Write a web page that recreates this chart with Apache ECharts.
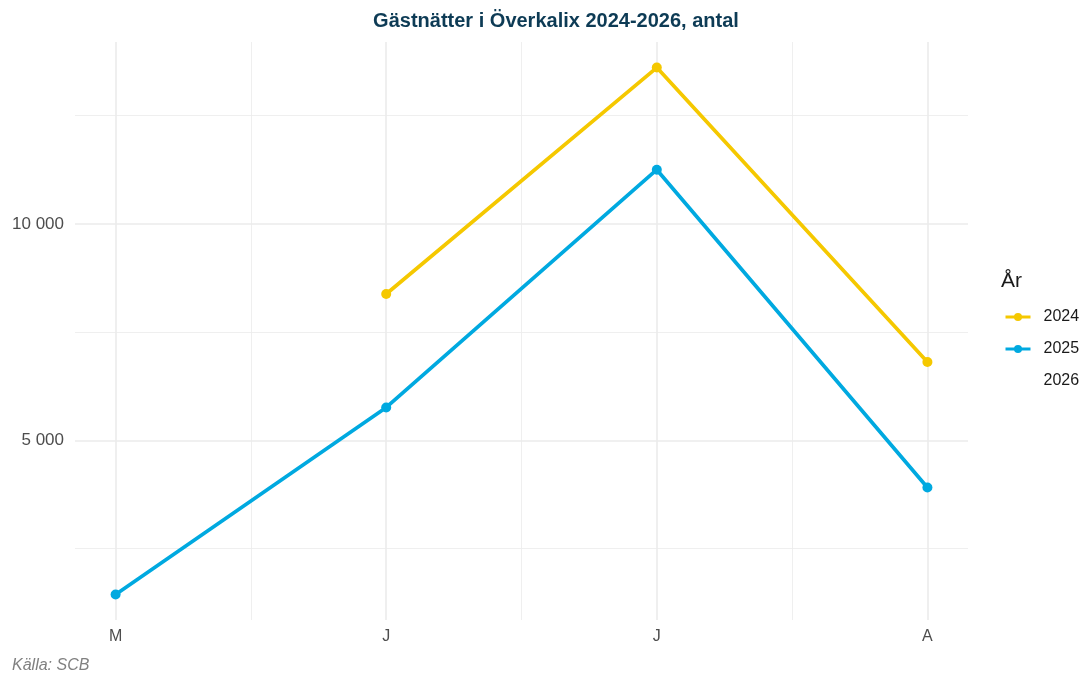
<!DOCTYPE html>
<html>
<head>
<meta charset="utf-8">
<script src="https://cdn.jsdelivr.net/npm/echarts@6/dist/echarts.min.js"></script>
<style>
html,body{margin:0;padding:0;background:#fff;}
#chart{width:1086px;height:673px;}
</style>
</head>
<body>
<div id="chart"></div>
<script>
// Data
const months = ['M', 'J', 'J', 'A'];
const years = ['2024', '2025', '2026'];
const values2024 = [null, 8380, 13610, 6810];
const values2025 = [1440, 5760, 11250, 3910];
const values2026 = [null, null, null, null];
const yMajorTicks = [5000, 10000];
const yMinorTicks = [2500, 7500, 12500];

const FONT = '"Liberation Sans", Arial, sans-serif';
const colors = {'2024': '#f5c800', '2025': '#00a9e0', '2026': 'rgba(0,0,0,0)'};
const seriesValues = {'2024': values2024, '2025': values2025, '2026': values2026};

function pairs(vals) {
  return vals.map((v, i) => [i + 1, v]);
}

const gridMarks = [];
yMajorTicks.forEach(v => gridMarks.push({yAxis: v, lineStyle: {width: 1.6}}));
yMinorTicks.forEach(v => gridMarks.push({yAxis: v, lineStyle: {width: 0.8}}));
months.forEach((m, i) => gridMarks.push({xAxis: i + 1, lineStyle: {width: 1.6}}));
for (let i = 1; i < months.length; i++) gridMarks.push({xAxis: i + 0.5, lineStyle: {width: 0.8}});

const series = [{
  name: '__grid',
  type: 'line',
  data: [],
  silent: true,
  z: 1,
  markLine: {
    silent: true,
    z: 1,
    symbol: 'none',
    label: {show: false},
    animation: false,
    lineStyle: {color: '#ebebeb', type: 'solid'},
    emphasis: {disabled: true},
    data: gridMarks
  }
}];
years.forEach(y => {
  series.push({
    name: y,
    type: 'line',
    data: pairs(seriesValues[y]),
    connectNulls: false,
    symbol: 'circle',
    symbolSize: 10,
    showSymbol: true,
    z: 10,
    lineStyle: {width: 3.7, color: colors[y]},
    itemStyle: {color: colors[y]},
    emphasis: {disabled: true}
  });
});

const chart = echarts.init(document.getElementById('chart'));
chart.setOption({
  animation: false,
  backgroundColor: '#ffffff',
  textStyle: {fontFamily: FONT},
  title: [{
    text: 'Gästnätter i Överkalix 2024-2026, antal',
    left: 551,
    textAlign: 'center',
    top: 6,
    textStyle: {fontFamily: FONT, fontSize: 20, fontWeight: 'bold', color: '#0d3b55'}
  }, {
    text: 'År',
    left: 996,
    top: 266,
    textStyle: {fontFamily: FONT, fontSize: 21, fontWeight: 'normal', color: '#1a1a1a'}
  }, {
    text: 'Källa: SCB',
    left: 7,
    top: 653,
    textStyle: {fontFamily: FONT, fontSize: 16, fontWeight: 'normal', fontStyle: 'italic', color: '#808080'}
  }],
  legend: {
    data: years,
    orient: 'vertical',
    left: 999,
    top: 304,
    itemWidth: 25,
    itemHeight: 10,
    itemGap: 16,
    lineStyle: {width: 3},
    textStyle: {fontFamily: FONT, fontSize: 16, color: '#1a1a1a', padding: [0, 0, 0, 8]},
    selectedMode: false
  },
  grid: {left: 75, right: 118, top: 42, bottom: 53},
  xAxis: {
    type: 'value',
    min: 0.85,
    max: 4.15,
    interval: 0.05,
    axisLine: {show: false},
    axisTick: {show: false},
    splitLine: {show: false},
    axisLabel: {
      margin: 9,
      fontFamily: FONT,
      fontSize: 16,
      color: '#4d4d4d',
      formatter: v => {
        const r = Math.round(v);
        return Math.abs(v - r) < 1e-6 && r >= 1 && r <= months.length ? months[r - 1] : '';
      }
    }
  },
  yAxis: {
    type: 'value',
    min: 850,
    max: 14200,
    interval: 50,
    axisLine: {show: false},
    axisTick: {show: false},
    splitLine: {show: false},
    axisLabel: {
      margin: 11,
      fontFamily: FONT,
      fontSize: 17,
      color: '#4d4d4d',
      formatter: v => {
        const r = Math.round(v);
        return (Math.abs(v - r) < 1e-6 && yMajorTicks.includes(r)) ? String(r).replace(/\B(?=(\d{3})+(?!\d))/g, ' ') : '';
      }
    }
  },
  series: series
});
</script>
</body>
</html>
